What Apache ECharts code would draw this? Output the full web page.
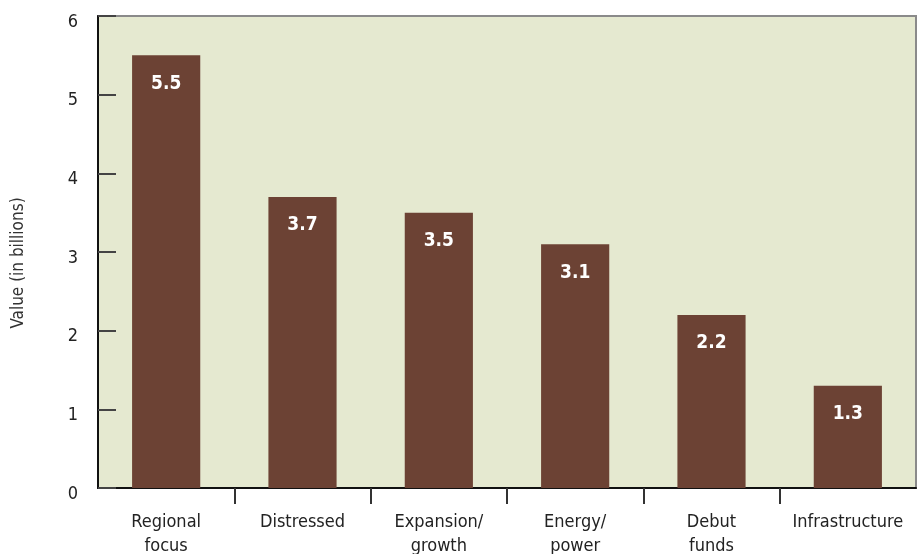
<!DOCTYPE html>
<html>
<head>
<meta charset="utf-8">
<script src="https://cdn.jsdelivr.net/npm/echarts@6/dist/echarts.min.js"></script>
<style>
  html, body { margin: 0; padding: 0; background: #ffffff; }
  #chart { width: 918px; height: 554px; }
</style>
</head>
<body>
<div id="chart"></div>
<script>
// Fund categories and committed value (in billions)
const categories = ['Regional\nfocus', 'Distressed', 'Expansion/\ngrowth', 'Energy/\npower', 'Debut\nfunds', 'Infrastructure'];
const values = [5.5, 3.7, 3.5, 3.1, 2.2, 1.3];
const yTicks = { min: 0, max: 6, interval: 1 };

const FONT = "'DejaVu Sans Condensed', 'DejaVu Sans', sans-serif";

// Boundary positions between categories (one more than the categories);
// used by a helper axis that only draws the separator ticks.
const boundaries = Array.from({ length: categories.length + 1 }, () => '');

const chart = echarts.init(document.getElementById('chart'), null, { renderer: 'canvas' });
chart.setOption({
  animation: false,
  grid: {
    left: 98, right: 2, top: 16, bottom: 66,
    outerBoundsMode: 'none',
    containLabel: false,
    show: true,
    backgroundColor: '#e5e9d0',
    borderColor: '#8a8a8a',
    borderWidth: 2
  },
  xAxis: [{
    type: 'category',
    data: categories,
    axisLine: { lineStyle: { color: '#111', width: 2 } },
    axisTick: { show: false },
    axisLabel: {
      color: '#222', fontFamily: FONT, fontSize: 18, margin: 22, lineHeight: 24,
      interval: 0
    }
  }, {
    type: 'category',
    data: boundaries,
    position: 'bottom',
    boundaryGap: false,
    axisLine: { show: false },
    axisLabel: { show: false },
    axisTick: {
      show: true,
      length: 16,
      interval: (i) => i > 0 && i < categories.length,
      lineStyle: { color: '#333', width: 2 }
    }
  }],
  yAxis: {
    type: 'value',
    min: yTicks.min, max: yTicks.max, interval: yTicks.interval,
    name: 'Value (in billions)',
    nameLocation: 'middle',
    nameGap: 71,
    nameRotate: 90,
    nameTextStyle: { color: '#333', fontFamily: FONT, fontSize: 17, padding: [0, 22, 0, 0] },
    splitLine: { show: false },
    axisLine: { show: true, lineStyle: { color: '#111', width: 2 } },
    axisTick: { show: true, inside: true, length: 18, lineStyle: { color: '#444', width: 2 } },
    axisLabel: { color: '#222', fontFamily: FONT, fontSize: 18, margin: 20, verticalAlign: 'top', lineHeight: 12 }
  },
  series: [{
    type: 'bar',
    xAxisIndex: 0,
    data: values,
    barWidth: '50%',
    itemStyle: { color: '#6c4234' },
    label: {
      show: true,
      position: 'insideTop',
      distance: 19,
      color: '#ffffff',
      fontFamily: FONT,
      fontWeight: 'bold',
      fontSize: 19,
      formatter: p => p.value.toFixed(1)
    }
  }]
});
</script>
</body>
</html>
